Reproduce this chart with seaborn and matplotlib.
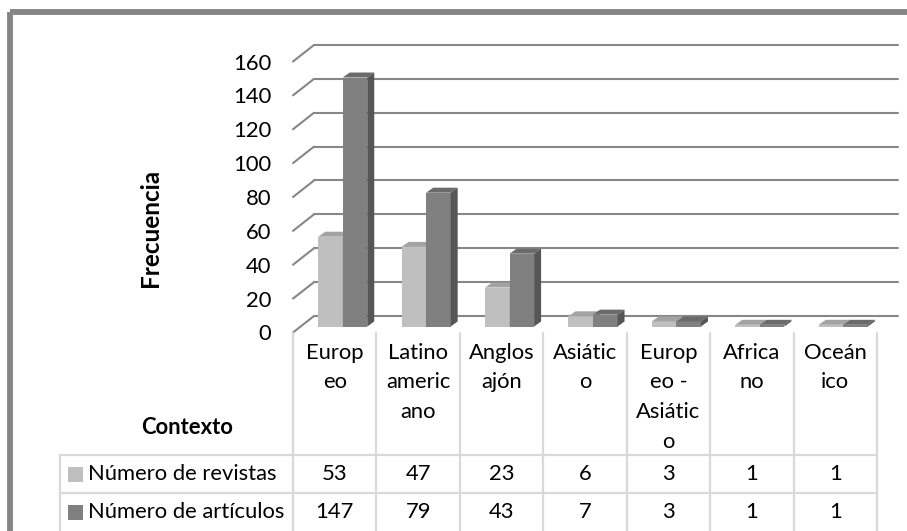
import matplotlib
matplotlib.use("Agg")
import matplotlib.pyplot as plt
import matplotlib.transforms as mtransforms
from matplotlib.patches import Polygon, Rectangle
from matplotlib.lines import Line2D
import pandas as pd
import seaborn as sns

# ---- data -------------------------------------------------------------
categorias = ["Europeo", "Latinoamericano", "Anglosajón", "Asiático",
              "Europeo - Asiático", "Africano", "Oceánico"]
etiquetas = [["Europ", "eo"], ["Latino", "americ", "ano"], ["Anglos", "ajón"],
             ["Asiátic", "o"], ["Europ", "eo -", "Asiátic", "o"],
             ["Africa", "no"], ["Oceán", "ico"]]
series = ["Número de revistas", "Número de artículos"]
revistas = [53, 47, 23, 6, 3, 1, 1]
articulos = [147, 79, 43, 7, 3, 1, 1]
yticks = list(range(0, 161, 20))

df = pd.DataFrame({
    "Contexto": categorias * 2,
    "Frecuencia": revistas + articulos,
    "Serie": [series[0]] * len(categorias) + [series[1]] * len(categorias),
})

# ---- style ------------------------------------------------------------
sns.set_theme(style="white")
plt.rcParams["font.family"] = ["Lato", "DejaVu Sans"]
FS = 15.8
claro, oscuro = "#bfbfbf", "#808080"
caras = {claro: ("#a3a3a3", "#9a9a9a"), oscuro: ("#6b6b6b", "#565656")}
rejilla = "#878787"
tabla = "#d9d9d9"

W, H = 907, 531
fig = plt.figure(figsize=(W / 100, H / 100), dpi=100)
fig.patch.set_facecolor("white")
px = mtransforms.Affine2D().scale(1, -1).translate(0, H)  # figure pixels, y down

# front plane of the 3-D plot
X0, X1, Y0, Y160 = 293, 877, 332.5, 61.5
ax = fig.add_axes([X0 / W, (H - Y0) / H, (X1 - X0) / W, (Y0 - Y160) / H])
ax.set_xlim(-0.5, len(categorias) - 0.5)
ax.set_ylim(0, 160)
cx = (X1 - X0) / len(categorias)   # pixels per category
cy = (Y0 - Y160) / 160             # pixels per unit


def off(dx, dy):
    return dx / cx, dy / cy


# back wall gridlines with their receding edges
bx, by = off(21, 16.5)
for v in yticks:
    ax.add_line(Line2D([-0.5 + bx, len(categorias) - 0.5 + bx], [v + by, v + by],
                       color=rejilla, lw=1.5, zorder=1, clip_on=False))
    ax.add_line(Line2D([-0.5, -0.5 + bx], [v, v + by],
                       color=rejilla, lw=1.5, zorder=1, clip_on=False))

# bars
sns.barplot(data=df, x="Contexto", y="Frecuencia", hue="Serie",
            palette=[claro, oscuro], width=0.588, saturation=1,
            legend=False, ax=ax, linewidth=0, edgecolor="none")

fx, fy = off(8, 6)     # bar front plane
dx, dy = off(7, 5)     # bar depth
for i, p in enumerate(list(ax.patches)):
    col = claro if i < len(categorias) else oscuro
    z = 3 if col == claro else 4
    x, w, h = p.get_x() + fx, p.get_width(), p.get_height()
    p.set_x(x)
    p.set_y(fy)
    p.set_zorder(z)
    p.set_clip_on(False)
    top, base = fy + h, fy
    arriba, lado = caras[col]
    ax.add_patch(Polygon([(x, top), (x + w, top), (x + w + dx, top + dy), (x + dx, top + dy)],
                         closed=True, facecolor=arriba, edgecolor="none", zorder=z, clip_on=False))
    ax.add_patch(Polygon([(x + w, base), (x + w + dx, base + dy), (x + w + dx, top + dy), (x + w, top)],
                         closed=True, facecolor=lado, edgecolor="none", zorder=z, clip_on=False))

ax.set_yticks(yticks)
ax.set_xticks([])
ax.tick_params(axis="y", length=0, pad=15.5, labelsize=FS, labelcolor="black")
ax.set_xlabel("")
ax.set_ylabel("")
for s in ax.spines.values():
    s.set_visible(False)
ax.set_facecolor("none")

# ---- data table -------------------------------------------------------
xd = mtransforms.blended_transform_factory(ax.transData, px)
for k in range(len(categorias) + 1):
    fig.add_artist(Line2D([k - 0.5, k - 0.5], [Y0, H + 2], transform=xd,
                          color=tabla, lw=1.6))
fig.add_artist(Line2D([60, 60], [455, H + 2], transform=px, color=tabla, lw=1.6))
for yl in (455, 493):
    fig.add_artist(Line2D([60, X1], [yl, yl], transform=px, color=tabla, lw=1.6))

for i, lineas in enumerate(etiquetas):
    for j, t in enumerate(lineas):
        fig.text(i, 353 + 29.5 * j, t, transform=xd, ha="center", va="center",
                 fontsize=FS, color="black")

filas = [(474, claro, series[0], revistas), (512, oscuro, series[1], articulos)]
for yc, col, nombre, vals in filas:
    fig.add_artist(Rectangle((68, yc - 7), 15, 15, transform=px,
                             facecolor=col, edgecolor="none"))
    fig.text(88, yc, nombre, transform=px, ha="left", va="center",
             fontsize=FS, color="black")
    for i, v in enumerate(vals):
        fig.text(i, yc, str(v), transform=xd, ha="center", va="center",
                 fontsize=FS, color="black")

fig.text(187, 427, "Contexto", transform=px, ha="center", va="center",
         fontsize=FS, fontweight="bold", color="black")
fig.text(150, 228, "Frecuencia", transform=px, ha="center", va="center",
         rotation=90, fontsize=17.5, fontweight="bold", color="black")

# outer chart frame
fig.add_artist(Rectangle((9.8, 12), W + 20, H + 20, transform=px,
                         facecolor="none", edgecolor="#858585", lw=4.2))

fig.savefig("out.png", dpi=100)
